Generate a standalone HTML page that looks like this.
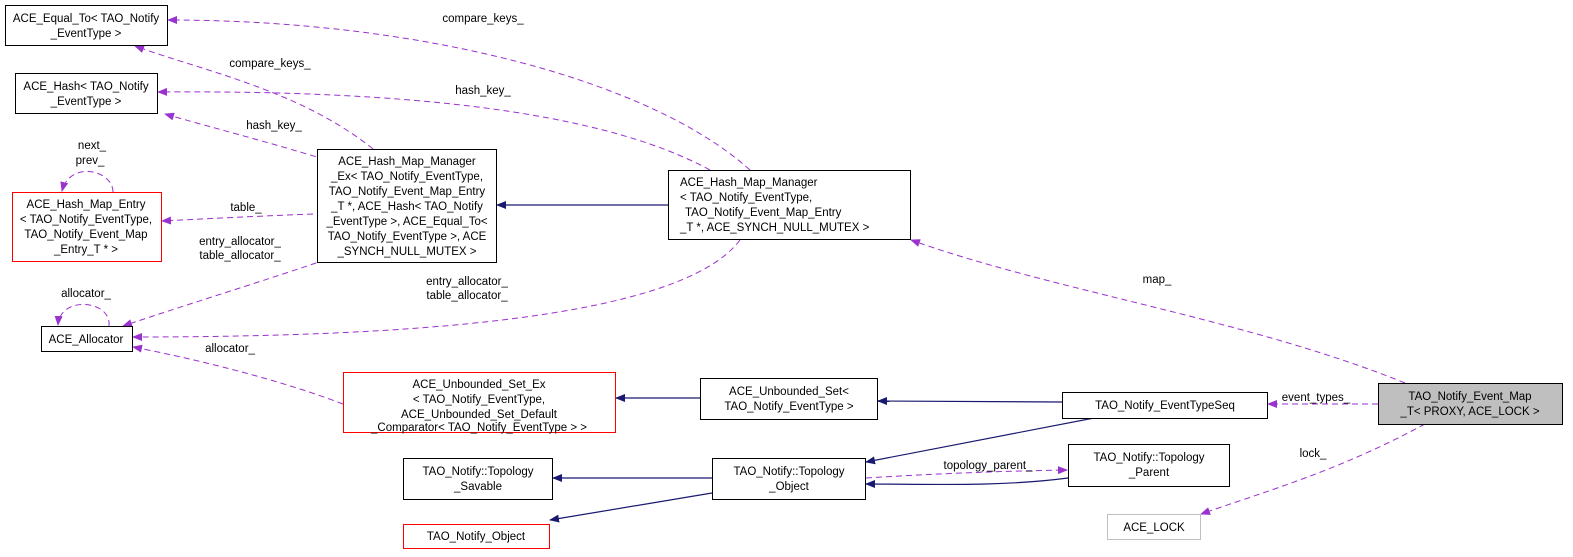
<!DOCTYPE html>
<html><head><meta charset="utf-8"><style>
html,body{margin:0;padding:0;background:#fff}
svg{display:block}
text{font-family:"Liberation Sans",Arial,sans-serif;font-size:11.5px;fill:#000}
.n{fill:#fff;stroke:#000;stroke-width:1}
.r{fill:#fff;stroke:#ff0000;stroke-width:1}
.d{fill:none;stroke:#9a32cd;stroke-dasharray:6,4;stroke-width:1}
.s{fill:none;stroke:#191970;stroke-width:1.2}
</style></head><body>
<svg width="1573" height="557" viewBox="0 0 1573 557" xmlns="http://www.w3.org/2000/svg">
<defs>
<marker id="p" markerWidth="10" markerHeight="8" refX="9" refY="4" orient="auto" markerUnits="userSpaceOnUse"><path d="M0,0 L10,4 L0,8 z" fill="#9a32cd"/></marker>
<marker id="b" markerWidth="10" markerHeight="8" refX="9" refY="4" orient="auto" markerUnits="userSpaceOnUse"><path d="M0,0 L10,4 L0,8 z" fill="#191970"/></marker>
</defs>
<!-- edges -->
<path class="d" marker-end="url(#p)" d="M750,170 C650,80 420,20 168,20"/>
<path class="d" marker-end="url(#p)" d="M710,170 C600,110 400,90 158,92"/>
<path class="d" marker-end="url(#p)" d="M740,240 C680,320 400,337 133,337"/>
<path class="d" marker-end="url(#p)" d="M373,149 C300,90 200,70 135,46"/>
<path class="d" marker-end="url(#p)" d="M373,175 C300,150 220,130 165,114"/>
<path class="d" marker-end="url(#p)" d="M373,212 C300,214 220,218 162,221"/>
<path class="d" marker-end="url(#p)" d="M373,243 C300,270 200,300 123,326"/>
<path class="d" marker-end="url(#p)" d="M113,192 C113,170 70,160 62,191"/>
<path class="d" marker-end="url(#p)" d="M109,326 C112,300 60,295 58,325"/>
<path class="d" marker-end="url(#p)" d="M343,404 C280,380 200,360 133,347"/>
<path class="d" marker-end="url(#p)" d="M1405,383 C1250,320 1050,290 911,240"/>
<path class="d" marker-end="url(#p)" d="M1378,404 L1268,404"/>
<path class="d" marker-end="url(#p)" d="M1425,424 C1340,470 1270,490 1201,514"/>
<path class="d" marker-end="url(#p)" d="M866,478 C930,474 1000,471 1067,470"/>
<path class="s" marker-end="url(#b)" d="M668,205 L497,205"/>
<path class="s" marker-end="url(#b)" d="M700,398 L616,398"/>
<path class="s" marker-end="url(#b)" d="M1062,402 L878,401"/>
<path class="s" marker-end="url(#b)" d="M1094,418 L866,462"/>
<path class="s" marker-end="url(#b)" d="M1068,478 C1000,487 930,484 866,484"/>
<path class="s" marker-end="url(#b)" d="M712,478 L553,478"/>
<path class="s" marker-end="url(#b)" d="M712,493 L550,520"/>
<!-- edge labels -->
<g text-anchor="middle">
<text x="483" y="22">compare_keys_</text>
<text x="483" y="94">hash_key_</text>
<text x="467" y="285">entry_allocator_</text>
<text x="467" y="299">table_allocator_</text>
<text x="270" y="67">compare_keys_</text>
<text x="274" y="129">hash_key_</text>
<text x="246" y="211">table_</text>
<text x="240" y="245">entry_allocator_</text>
<text x="240" y="259">table_allocator_</text>
<text x="92" y="149">next_</text>
<text x="90" y="164">prev_</text>
<text x="86" y="297">allocator_</text>
<text x="230" y="352">allocator_</text>
<text x="1157" y="283">map_</text>
<text x="1316" y="401">event_types_</text>
<text x="1313" y="457">lock_</text>
<text x="988" y="469">topology_parent_</text>
</g>
<!-- nodes -->
<rect class="n" x="5.5" y="5.5" width="162" height="40"/>
<text x="86" y="22" text-anchor="middle">ACE_Equal_To&lt; TAO_Notify</text>
<text x="86" y="37" text-anchor="middle">_EventType &gt;</text>
<rect class="n" x="15.5" y="73.5" width="142" height="40"/>
<text x="86" y="90" text-anchor="middle">ACE_Hash&lt; TAO_Notify</text>
<text x="86" y="105" text-anchor="middle">_EventType &gt;</text>
<rect class="r" x="12.5" y="192.5" width="149" height="69"/>
<g text-anchor="middle"><text x="86" y="208">ACE_Hash_Map_Entry</text><text x="86" y="223">&lt; TAO_Notify_EventType,</text><text x="86" y="238">TAO_Notify_Event_Map</text><text x="86" y="253">_Entry_T * &gt;</text></g>
<rect class="n" x="41.5" y="326.5" width="91" height="25"/>
<text x="86" y="343" text-anchor="middle">ACE_Allocator</text>
<rect class="n" x="317.5" y="149.5" width="179" height="113"/>
<g text-anchor="middle"><text x="407" y="165">ACE_Hash_Map_Manager</text><text x="407" y="180">_Ex&lt; TAO_Notify_EventType,</text><text x="407" y="195">TAO_Notify_Event_Map_Entry</text><text x="407" y="210">_T *, ACE_Hash&lt; TAO_Notify</text><text x="407" y="225">_EventType &gt;, ACE_Equal_To&lt;</text><text x="407" y="240">TAO_Notify_EventType &gt;, ACE</text><text x="407" y="255">_SYNCH_NULL_MUTEX &gt;</text></g>
<rect class="n" x="668.5" y="170.5" width="242" height="69"/>
<g><text x="680" y="186">ACE_Hash_Map_Manager</text><text x="680" y="201">&lt; TAO_Notify_EventType,</text><text x="685" y="216">TAO_Notify_Event_Map_Entry</text><text x="680" y="231">_T *, ACE_SYNCH_NULL_MUTEX &gt;</text></g>
<rect class="r" x="343.5" y="372.5" width="272" height="60"/>
<g text-anchor="middle"><text x="479" y="388">ACE_Unbounded_Set_Ex</text><text x="479" y="403">&lt; TAO_Notify_EventType,</text><text x="479" y="418">ACE_Unbounded_Set_Default</text><text x="479" y="433" dy="-2">_Comparator&lt; TAO_Notify_EventType &gt; &gt;</text></g>
<rect class="n" x="700.5" y="378.5" width="177" height="41"/>
<g text-anchor="middle"><text x="789" y="395">ACE_Unbounded_Set&lt;</text><text x="789" y="410">TAO_Notify_EventType &gt;</text></g>
<rect class="n" x="1062.5" y="392.5" width="205" height="26"/>
<text x="1165" y="409" text-anchor="middle">TAO_Notify_EventTypeSeq</text>
<rect x="1378.5" y="383.5" width="184" height="41" fill="#bfbfbf" stroke="#000"/>
<g text-anchor="middle"><text x="1470" y="400">TAO_Notify_Event_Map</text><text x="1470" y="415">_T&lt; PROXY, ACE_LOCK &gt;</text></g>
<rect class="n" x="403.5" y="458.5" width="149" height="41"/>
<g text-anchor="middle"><text x="478" y="475">TAO_Notify::Topology</text><text x="478" y="490">_Savable</text></g>
<rect class="r" x="403.5" y="524.5" width="146" height="24"/>
<text x="476" y="540" text-anchor="middle">TAO_Notify_Object</text>
<rect class="n" x="712.5" y="458.5" width="153" height="41"/>
<g text-anchor="middle"><text x="789" y="475">TAO_Notify::Topology</text><text x="789" y="490">_Object</text></g>
<rect class="n" x="1068.5" y="444.5" width="161" height="42"/>
<g text-anchor="middle"><text x="1149" y="461">TAO_Notify::Topology</text><text x="1149" y="476">_Parent</text></g>
<rect x="1107.5" y="514.5" width="93" height="25" fill="#fff" stroke="#bfbfbf"/>
<text x="1154" y="531" text-anchor="middle">ACE_LOCK</text>
</svg>
</body></html>
